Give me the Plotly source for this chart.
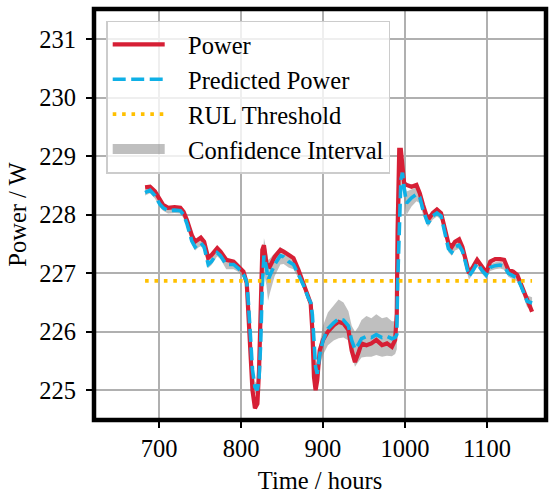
import plotly.graph_objects as go

# ---- data ----
time_h = [683, 689, 695, 701, 705, 711, 719, 726, 730, 734, 740, 744, 748, 751, 755, 760, 764, 771, 775, 782,
          791, 797, 803, 807, 809, 811, 814, 817, 820, 822, 824, 826, 828, 831, 833, 835, 841, 848, 852, 858,
          864, 870, 876, 882, 885, 887, 889, 891, 893, 896, 900, 906, 913, 919, 925, 931, 935, 939, 943, 947,
          953, 959, 965, 972, 978, 984, 988, 990, 991, 993, 995, 997, 999, 1002, 1008, 1014, 1018, 1022, 1028, 1034,
          1039, 1044, 1049, 1053, 1057, 1061, 1066, 1070, 1074, 1078, 1083, 1088, 1094, 1099, 1104, 1110, 1116, 1121, 1126, 1132,
          1137, 1141, 1145, 1149, 1155]

power = [228.47, 228.48, 228.40, 228.25, 228.17, 228.12, 228.13, 228.12, 228.05, 227.91, 227.65, 227.54, 227.58, 227.61, 227.54, 227.26, 227.31, 227.43, 227.37, 227.23,
         227.20, 227.11, 227.03, 226.83, 226.20, 225.57, 225.00, 224.69, 224.77, 225.34, 226.48, 227.40, 227.48, 227.17, 227.12, 227.11, 227.28, 227.40, 227.37, 227.31,
         227.26, 227.06, 226.85, 226.60, 226.48, 226.03, 225.23, 225.00, 225.17, 225.68, 225.86, 226.00, 226.11, 226.17, 226.14, 226.03, 225.68, 225.48, 225.63, 225.80,
         225.77, 225.80, 225.86, 225.77, 225.80, 225.74, 225.86, 226.31, 227.74, 229.11, 229.11, 228.88, 228.54, 228.51, 228.48, 228.51, 228.37, 228.17, 227.91, 228.03,
         228.09, 228.03, 227.74, 227.51, 227.45, 227.54, 227.58, 227.45, 227.23, 227.00, 227.11, 227.23, 227.11, 227.01, 227.20, 227.24, 227.24, 227.23, 227.06, 227.03,
         226.97, 226.83, 226.66, 226.51, 226.34]

predicted = [228.38, 228.42, 228.33, 228.18, 228.12, 228.07, 228.08, 228.07, 228.00, 227.85, 227.55, 227.45, 227.50, 227.52, 227.45, 227.15, 227.20, 227.35, 227.30, 227.15,
             227.15, 227.08, 226.98, 226.85, 226.50, 225.95, 225.35, 225.05, 225.00, 225.20, 225.80, 226.80, 227.30, 227.10, 226.88, 226.95, 227.15, 227.30, 227.28, 227.20,
             227.15, 226.98, 226.80, 226.58, 226.50, 226.30, 225.70, 225.40, 225.28, 225.60, 225.85, 226.05, 226.15, 226.22, 226.20, 226.10, 225.85, 225.70, 225.78, 225.88,
             225.92, 225.90, 225.95, 225.90, 225.92, 225.88, 225.90, 225.95, 226.80, 227.80, 228.60, 228.72, 228.45, 228.20, 228.29, 228.35, 228.30, 228.08, 227.85, 227.98,
             228.03, 227.98, 227.70, 227.42, 227.36, 227.45, 227.48, 227.38, 227.18, 226.95, 227.05, 227.17, 227.05, 226.97, 227.10, 227.13, 227.14, 227.12, 227.00, 226.95,
             226.92, 226.80, 226.65, 226.52, 226.49]

ci_low = [228.33, 228.37, 228.28, 228.13, 228.07, 228.02, 228.03, 228.02, 227.94, 227.79, 227.49, 227.39, 227.44, 227.46, 227.39, 227.09, 227.14, 227.29, 227.24, 227.07,
          227.07, 227.02, 226.92, 226.79, 226.42, 225.85, 225.25, 224.95, 224.90, 225.10, 225.60, 226.50, 227.00, 226.80, 226.53, 226.65, 226.95, 227.15, 227.16, 227.10,
          227.07, 226.92, 226.74, 226.52, 226.44, 226.22, 225.60, 225.28, 225.13, 225.40, 225.60, 225.77, 225.85, 225.89, 225.90, 225.85, 225.60, 225.40, 225.48, 225.56,
          225.57, 225.57, 225.60, 225.57, 225.59, 225.58, 225.62, 225.70, 226.55, 227.55, 228.40, 228.52, 228.25, 228.00, 228.14, 228.23, 228.20, 228.00, 227.79, 227.92,
          227.97, 227.92, 227.64, 227.36, 227.30, 227.39, 227.42, 227.32, 227.12, 226.89, 226.99, 227.11, 226.99, 226.91, 227.04, 227.07, 227.08, 227.06, 226.94, 226.89,
          226.86, 226.74, 226.57, 226.42, 226.39]

ci_high = [228.43, 228.47, 228.38, 228.23, 228.17, 228.12, 228.13, 228.12, 228.06, 227.91, 227.61, 227.51, 227.56, 227.58, 227.51, 227.21, 227.26, 227.41, 227.36, 227.23,
           227.23, 227.14, 227.04, 226.91, 226.58, 226.05, 225.45, 225.15, 225.10, 225.30, 226.00, 227.10, 227.60, 227.40, 227.23, 227.25, 227.35, 227.45, 227.40, 227.30,
           227.23, 227.04, 226.86, 226.64, 226.56, 226.38, 225.80, 225.52, 225.43, 225.80, 226.10, 226.33, 226.45, 226.55, 226.50, 226.35, 226.10, 226.00, 226.08, 226.20,
           226.27, 226.23, 226.30, 226.23, 226.25, 226.18, 226.18, 226.20, 227.05, 228.05, 228.80, 228.92, 228.65, 228.40, 228.44, 228.47, 228.40, 228.16, 227.91, 228.04,
           228.09, 228.04, 227.76, 227.48, 227.42, 227.51, 227.54, 227.44, 227.24, 227.01, 227.11, 227.23, 227.11, 227.03, 227.16, 227.19, 227.20, 227.18, 227.06, 227.01,
           226.98, 226.86, 226.73, 226.62, 226.59]

threshold_x = [683, 1155]
threshold_y = [226.87, 226.87]

x_ticks = [700, 800, 900, 1000, 1100]
y_ticks = [225, 226, 227, 228, 229, 230, 231]

FONT = "Liberation Serif"
FS = 24.5
GAP = "\u00a0\u00a0\u00a0"
CI_COLOR = "rgba(128,128,128,0.5)"

fig = go.Figure()

# confidence band (drawn first, under the lines)
fig.add_trace(go.Scatter(x=time_h, y=ci_low, mode="lines", line=dict(width=0, color="rgba(0,0,0,0)"),
                         showlegend=False, hoverinfo="skip"))
fig.add_trace(go.Scatter(x=time_h, y=ci_high, mode="lines", line=dict(width=0, color="rgba(0,0,0,0)"),
                         fill="tonexty", fillcolor=CI_COLOR, showlegend=False, legendgroup="d"))
# legend entry for the band (patch-like swatch)
fig.add_trace(go.Scatter(x=[None], y=[None], mode="lines", name=GAP + "Confidence Interval",
                         line=dict(color=CI_COLOR, width=17), legendrank=4, legendgroup="d"))
fig.add_trace(go.Scatter(x=time_h, y=power, mode="lines", name=GAP + "Power",
                         line=dict(color="#d61f35", width=4.2), legendrank=1, legendgroup="a"))
fig.add_trace(go.Scatter(x=time_h, y=predicted, mode="lines", name=GAP + "Predicted Power",
                         line=dict(color="#0fb0e6", width=3.6, dash="13px,5.5px"), legendrank=2, legendgroup="b"))
fig.add_trace(go.Scatter(x=threshold_x, y=threshold_y, mode="lines", name=GAP + "RUL Threshold",
                         line=dict(color="#ffc000", width=3.6, dash="3.6px,5.8px"), legendrank=3, legendgroup="c"))

tickfont = dict(family=FONT, size=FS, color="black")
axis_common = dict(
    showgrid=True, gridcolor="#b0b0b0", gridwidth=1.6,
    ticks="outside", ticklen=7, tickwidth=1.6, tickcolor="black",
    tickfont=tickfont,
    zeroline=False, showline=False,
)

fig.update_layout(
    template="none",
    width=550, height=497,
    margin=dict(l=94, r=4, t=9, b=77, autoexpand=False),
    paper_bgcolor="white", plot_bgcolor="white",
    font=dict(family=FONT, size=FS, color="black"),
    xaxis=dict(range=[620.7, 1172], tickvals=x_ticks, ticktext=[str(v) for v in x_ticks],
               title=dict(text="Time / hours", font=dict(family=FONT, size=FS, color="black"), standoff=10),
               **axis_common),
    yaxis=dict(range=[224.49, 231.52], tickvals=y_ticks, ticktext=[str(v) for v in y_ticks],
               ticklabelstandoff=5,
               title=dict(text="Power / W", font=dict(family=FONT, size=FS, color="black"), standoff=5),
               **axis_common),
    legend=dict(x=0.027, y=0.972, xanchor="left", yanchor="top",
                bgcolor="rgba(255,255,255,0.8)", bordercolor="#cccccc", borderwidth=1.5,
                font=dict(family=FONT, size=FS, color="black"),
                tracegroupgap=10, itemwidth=52, traceorder="normal"),
    showlegend=True,
)

# thick black frame around the plotting area
fig.add_shape(type="rect", xref="paper", yref="paper", x0=0, y0=0, x1=1, y1=1,
              line=dict(color="black", width=4.5), layer="above")

fig.write_html("out.html")
